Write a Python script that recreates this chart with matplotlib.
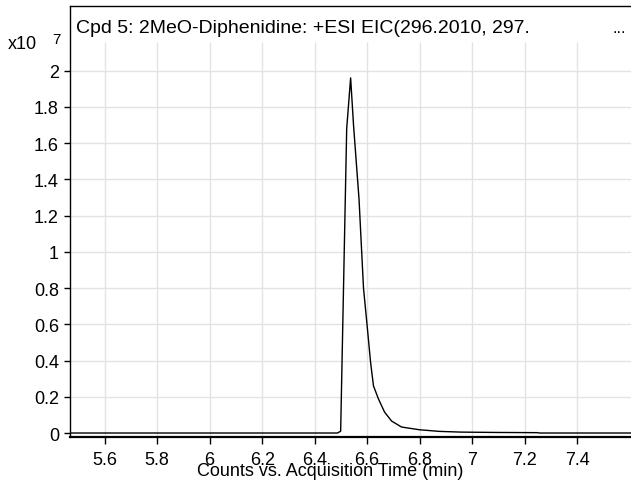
import numpy as np
import matplotlib
matplotlib.use('Agg')
import matplotlib.pyplot as plt

plt.rcParams['font.family'] = ['Liberation Sans', 'DejaVu Sans']

# EIC trace (time in min, counts in units of 1e7)
time = [5.468, 6.487, 6.499, 6.522, 6.537, 6.548, 6.569, 6.586, 6.600, 6.613,
        6.624, 6.643, 6.666, 6.693, 6.731, 6.799, 6.875, 6.958, 7.100, 7.248,
        7.256, 7.620]
counts = [0.0, 0.0, 0.01, 1.68, 1.96, 1.70, 1.29, 0.80, 0.59, 0.39,
          0.26, 0.188, 0.116, 0.066, 0.033, 0.018, 0.009, 0.005, 0.003, 0.002,
          0.0, 0.0]

xticks = [5.6, 5.8, 6.0, 6.2, 6.4, 6.6, 6.8, 7.0, 7.2, 7.4]
xtick_labels = ['5.6', '5.8', '6', '6.2', '6.4', '6.6', '6.8', '7', '7.2', '7.4']
yticks = [0, 0.2, 0.4, 0.6, 0.8, 1.0, 1.2, 1.4, 1.6, 1.8, 2.0]
ytick_labels = ['0', '0.2', '0.4', '0.6', '0.8', '1', '1.2', '1.4', '1.6', '1.8', '2']

title = 'Cpd 5: 2MeO-Diphenidine: +ESI EIC(296.2010, 297.'

W, H = 631, 481
fig = plt.figure(figsize=(W / 100, H / 100), dpi=100)
ax = fig.add_axes([70 / W, 1 - 438 / H, 1 - 70 / W, (438 - 7.3) / H])

ylo, yhi = -0.022, 2.355
ax.set_xlim(5.468, 7.605)
ax.set_ylim(ylo, yhi)

# grid: vertical lines stop below the title strip
ax.vlines(xticks, ylo, 2.156, color='#e3e3e3', lw=1, zorder=0)
ax.hlines(yticks[1:], 5.468, 7.605, color='#e3e3e3', lw=1, zorder=0)

ax.plot(time, counts, color='black', lw=1.0, zorder=3)

ax.set_xticks(xticks)
ax.set_xticklabels(xtick_labels)
ax.set_yticks(yticks)
ax.set_yticklabels(ytick_labels)
ax.tick_params(axis='x', direction='out', length=5, width=1, pad=5, labelsize=13)
ax.tick_params(axis='y', direction='out', length=4, width=1, pad=4, labelsize=13)

for s in ['left', 'top']:
    ax.spines[s].set_linewidth(1.0)
ax.spines['bottom'].set_linewidth(1.6)
ax.spines['right'].set_visible(False)

fig.text(76 / W, 1 - 33 / H, title, fontsize=14, va='baseline', ha='left')
fig.text(612 / W, 1 - 33 / H, '...', fontsize=12, va='baseline', ha='left')
fig.text(8 / W, 1 - 49 / H, 'x10', fontsize=13, va='baseline', ha='left')
fig.text(52 / W, 1 - 33 / H, '7', fontsize=11, va='top', ha='left')
fig.text(330 / W, 1 - 476 / H, 'Counts vs. Acquisition Time (min)', fontsize=13,
         va='baseline', ha='center')

fig.savefig('out.png', dpi=100)
